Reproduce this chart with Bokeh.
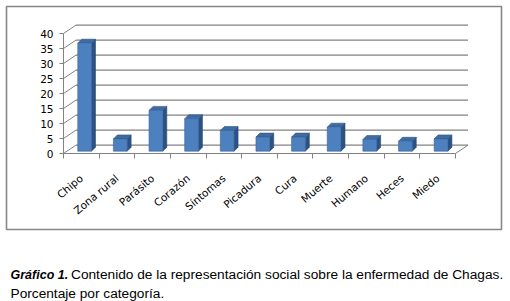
from bokeh.plotting import figure
from bokeh.models import FixedTicker, LinearAxis, Range1d
from bokeh.embed import file_html
from bokeh.resources import INLINE
from bokeh.core.properties import value

# ---- data ----
categories = ["Chipo", "Zona rural", "Parásito", "Corazón", "Síntomas", "Picadura",
              "Cura", "Muerte", "Humano", "Heces", "Miedo"]
values = [36.0, 4.1, 13.6, 10.8, 6.9, 4.7, 4.7, 8.0, 3.9, 3.3, 4.1]
y_ticks = [0, 5, 10, 15, 20, 25, 30, 35, 40]
caption_bold = "Gráfico 1."
caption_line1 = "Contenido de la representación social sobre la enfermedad de Chagas."
caption_line2 = "Porcentaje por categoría."

# ---- geometry / style ----
W, H = 510, 301
X0, PXU = 63.0, 35.64     # pixel of x=0, pixels per category
Y0, PYU = 153.0, 3.0      # pixel of y=0 (from top), pixels per unit


def dx(px):
    return (px - X0) / PXU


def dy(py):
    return (Y0 - py) / PYU


n = len(categories)
ymax = y_ticks[-1]
wdx, wdy = 0.35, 2.8          # back-wall depth offset (data units)
bdx, bdy = 0.112, 1.33        # bar depth offset
b_off, b_w, b_base = 0.40, 0.386, 0.77
grid_col = "#828282"

p = figure(width=W, height=H, output_backend="svg", toolbar_location=None,
           x_range=Range1d(dx(0), dx(W)), y_range=Range1d(dy(H), dy(0)),
           min_border=0, x_axis_type=None, y_axis_type=None)
p.outline_line_color = None
p.background_fill_color = "white"
p.border_fill_color = "white"
p.xgrid.visible = False
p.ygrid.visible = False

# outer chart border
p.quad(left=[dx(6)], right=[dx(501)], top=[dy(6)], bottom=[dy(229)],
       fill_alpha=0, line_color="#878787", line_width=1.6)

# back wall gridlines
p.segment(x0=[wdx] * len(y_ticks), y0=[t + wdy for t in y_ticks],
          x1=[n + wdx] * len(y_ticks), y1=[t + wdy for t in y_ticks],
          line_color=grid_col, line_width=1.3)
# left wall slants
p.segment(x0=[0] * len(y_ticks), y0=y_ticks,
          x1=[wdx] * len(y_ticks), y1=[t + wdy for t in y_ticks],
          line_color=grid_col, line_width=1)
# floor right edge
p.segment(x0=[n], y0=[0], x1=[n + wdx], y1=[wdy], line_color=grid_col, line_width=1)

# bars
fl = [i + b_off for i in range(n)]
fr = [x + b_w for x in fl]
tops = [b_base + v for v in values]
side_xs = [[r, r + bdx, r + bdx, r] for r in fr]
side_ys = [[b_base, b_base + bdy, t + bdy, t] for t in tops]
top_xs = [[l, l + bdx, r + bdx, r] for l, r in zip(fl, fr)]
top_ys = [[t, t + bdy, t + bdy, t] for t in tops]
p.patches(xs=side_xs, ys=side_ys, fill_color="#2C5283", line_color="#2A4C78", line_width=0.6)
p.patches(xs=top_xs, ys=top_ys, fill_color="#3D6BA3", line_color="#2F5585", line_width=0.6)
p.quad(left=fl, right=fr, bottom=[b_base] * n, top=tops,
       fill_color="#4D80BE", line_color="#3A659B", line_width=0.6)

# axes (fixed inside the frame)
yaxis = LinearAxis(ticker=FixedTicker(ticks=y_ticks), bounds=(0, ymax), fixed_location=0)
yaxis.axis_line_color = grid_col
yaxis.major_tick_line_color = grid_col
yaxis.major_tick_out = 4
yaxis.major_tick_in = 0
yaxis.minor_tick_line_color = None
yaxis.major_label_text_font = "DejaVu Sans"
yaxis.major_label_text_font_size = "10.5px"
yaxis.major_label_text_color = "#000000"
yaxis.major_label_standoff = 6
p.add_layout(yaxis, "left")

centers = [i + 0.5 for i in range(n)]
xaxis = LinearAxis(ticker=FixedTicker(ticks=centers, minor_ticks=list(range(n + 1))),
                   bounds=(0, n), fixed_location=0)
xaxis.axis_line_color = grid_col
xaxis.major_tick_line_color = None
xaxis.major_tick_out = 0
xaxis.major_tick_in = 0
xaxis.minor_tick_line_color = grid_col
xaxis.minor_tick_out = 5
xaxis.minor_tick_in = 0
xaxis.major_label_overrides = {c: lab for c, lab in zip(centers, categories)}
xaxis.major_label_orientation = 0.7
xaxis.major_label_text_font = "DejaVu Sans"
xaxis.major_label_text_font_size = "10.5px"
xaxis.major_label_text_color = "#000000"
xaxis.major_label_standoff = 18
p.add_layout(xaxis, "below")

# caption
p.text(x=[dx(10)], y=[dy(274)], text=[caption_bold], text_font=value("Liberation Sans"),
       text_font_size="12.5px", text_font_style="bold italic", text_color="#000000",
       text_baseline="alphabetic")
p.text(x=[dx(70.5)], y=[dy(274)], text=[caption_line1], text_font=value("Liberation Sans"),
       text_font_size="13.7px", text_color="#000000", text_baseline="alphabetic")
p.text(x=[dx(10)], y=[dy(292.5)], text=[caption_line2], text_font=value("Liberation Sans"),
       text_font_size="13.7px", text_color="#000000", text_baseline="alphabetic")

open("out.html", "w").write(file_html(p, INLINE))
